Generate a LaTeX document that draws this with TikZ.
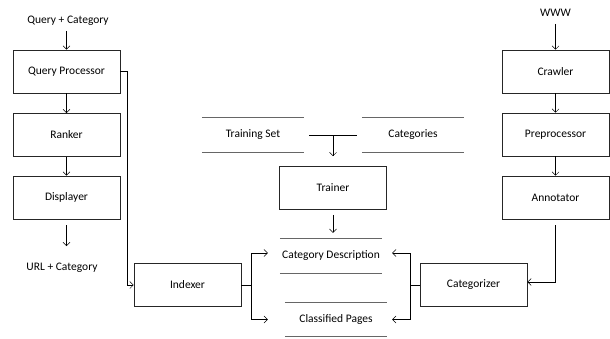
\documentclass[tikz,border=0pt]{standalone}
\usepackage{fontspec}
\setmainfont{Carlito}
\usetikzlibrary{calc, arrows.meta}

\tikzset{
  box/.style={draw=black!85, line width=0.6pt, minimum width=107pt, minimum height=43pt, inner sep=0pt, font=\fontsize{11.5}{13}\selectfont},
  store/.style={minimum width=102pt, minimum height=34pt, inner sep=0pt, font=\fontsize{11.5}{13}\selectfont},
  lbl/.style={inner sep=1pt, font=\fontsize{11.5}{13}\selectfont},
  link/.style={line width=0.5pt, -{Straight Barb[length=3.5pt,width=7pt]}}
}

\begin{document}
\begin{tikzpicture}[x=1pt,y=-1pt]
\useasboundingbox (0,0) rectangle (610,338);
	% left column
	\node[lbl] (qc) at (68,21) {Query + Category};
	\node[box] (qp) at (66.5,71.5) {Query Processor};
	\node[box] (rank) at (66.5,135) {Ranker};
	\node[box] (disp) at (66.5,197.5) {Displayer};
	\node[lbl] (url) at (62,268) {URL + Category};
	%
	% right column
	\node[lbl] (www) at (555.5,13) {WWW};
	\node[box] (crawl) at (555.5,71.5) {Crawler};
	\node[box] (prep) at (555.5,134.5) {Preprocessor};
	\node[box] (annot) at (555.5,197.5) {Annotator};
	%
	% middle
	\node[store] (tset) at (253,135) {Training Set};
	\node[store] (cats) at (413,135) {Categories};
	\node[box] (train) at (333,188) {Trainer};
	\node[store] (cdesc) at (331,256) {Category Description};
	\node[store] (cpages) at (336,319.5) {Classified Pages};
	\node[box] (idx) at (187.5,285) {Indexer};
	\node[box] (catz) at (473.5,285) {Categorizer};
	%
	\foreach \s in {tset,cats,cdesc,cpages}{
		\draw[black!60, line width=0.9pt] (\s.north west) -- (\s.north east);
		\draw[black!60, line width=0.9pt] (\s.south west) -- (\s.south east);
	}
	%
	\draw[link, shorten <=4pt] (qc.south -| qp.north) -- (qp.north);
	\draw[link] (qp) -- (rank);
	\draw[link] (rank) -- (disp);
	\draw[link, shorten <=6pt, shorten >=16pt] (disp.south) -- (disp.south |- url.north);
	\draw[link] (qp.east) -- ++(7,0) |- (idx.west);
	%
	\draw[link, shorten <=6pt] (www) -- (crawl);
	\draw[link] (crawl) -- (prep);
	\draw[link] (prep) -- (annot);
	\draw[link, shorten <=6pt] (annot.south) |- ([yshift=3pt]catz.east);
	%
	\draw[line width=0.5pt, shorten <=5pt, shorten >=5pt] (tset.east) -- (cats.west);
	\draw[link, shorten >=10pt] (tset.east -| train.north) -- (train.north);
	\draw[link, shorten <=5pt, shorten >=6pt] (train.south) -- (train.south |- cdesc.north);
	%
	\draw[link, shorten >=12pt] (idx.east) -- ++(10,0) |- ([yshift=3pt]cdesc.west);
	\draw[link, shorten >=17pt] (idx.east) -- ++(10,0) |- (cpages.west);
	\draw[link, shorten >=10pt] (catz.west) -- ++(-9,0) |- ([yshift=3pt]cdesc.east);
	\draw[link, shorten >=5pt] (catz.west) -- ++(-9,0) |- (cpages.east);
\end{tikzpicture}
\end{document}
